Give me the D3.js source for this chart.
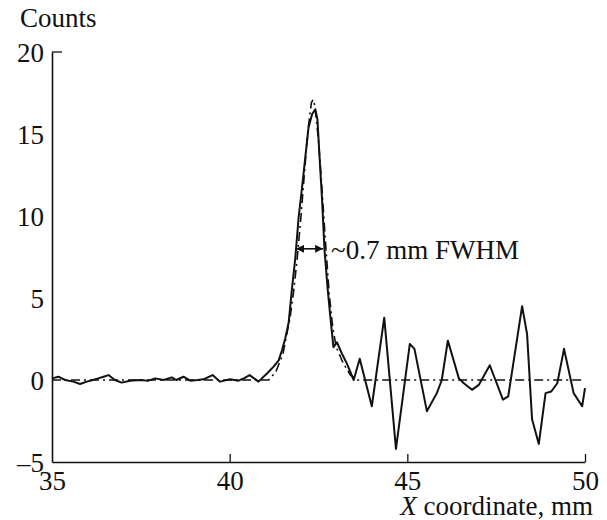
<!DOCTYPE html>
<html>
<head>
<meta charset="utf-8">
<script src="https://cdn.jsdelivr.net/npm/d3@7"></script>
</head>
<body style="margin:0">
<script>
// chart data
var xTicks = [35, 40, 45, 50];
var yTicks = [-5, 0, 5, 10, 15, 20];

// measured profile (solid line)
var profX = [35.0, 35.18, 35.37, 35.6, 35.79, 35.98, 36.15, 36.3, 36.45, 36.59, 36.77, 36.96, 37.2, 37.48, 37.7, 37.9,
  38.14, 38.37, 38.5, 38.7, 38.89, 39.1, 39.26, 39.52, 39.73, 40.01, 40.25, 40.4, 40.56, 40.81, 41.05, 41.23,
  41.38, 41.47, 41.56, 41.66, 41.75, 41.85, 41.94, 42.03, 42.13, 42.22, 42.32, 42.41, 42.47, 42.53, 42.6,
  42.67, 42.76, 42.85, 42.92, 43.02, 43.16, 43.3, 43.49, 43.66, 44.0, 44.35, 44.68, 45.07, 45.2, 45.55,
  45.83, 45.97, 46.14, 46.29, 46.45, 46.59, 46.82, 47.01, 47.32, 47.48, 47.69, 47.84, 48.23, 48.37, 48.51,
  48.7, 48.89, 49.05, 49.22, 49.41, 49.68, 49.92, 50.0];
var profY = [0.1, 0.2, 0.0, -0.1, -0.24, -0.1, 0.0, 0.1, 0.2, 0.3, 0.0, -0.16, -0.04, 0.0, -0.05, 0.1,
  0.0, 0.16, 0.0, 0.2, -0.04, 0.0, 0.04, 0.3, -0.1, 0.04, -0.04, 0.1, 0.3, -0.1, 0.4, 0.8,
  1.2, 1.8, 2.5, 3.5, 5.5, 7.5, 9.9, 11.6, 13.6, 15.4, 16.2, 16.5, 15.9, 13.6, 11.0,
  7.9, 5.5, 3.5, 2.0, 2.3, 1.6, 1.0, 0.0, 1.3, -1.6, 3.8, -4.2, 2.2, 1.9, -1.9,
  -0.8, 0.0, 2.4, 1.3, 0.1, -0.2, -0.6, -0.3, 0.9, 0.0, -1.2, -1.0, 4.5, 2.8, -2.4,
  -3.9, -0.8, -0.7, -0.2, 1.9, -0.8, -1.6, -0.5];

// fitted peak (dash-dot line)
var fitX = [35.0, 41.1, 41.3, 41.5, 41.7, 41.8, 41.9, 42.0, 42.1, 42.2, 42.3, 42.35, 42.4, 42.5, 42.6, 42.7, 42.8, 42.9, 43.0, 43.2, 43.4, 43.6, 50.0];
var fitY = [0.0, 0.0, 0.5, 1.6, 3.8, 5.4, 7.4, 9.8, 12.5, 15.2, 16.9, 17.1, 16.7, 14.6, 11.6, 8.3, 5.3, 3.2, 2.0, 1.0, 0.3, 0.0, 0.0];

// FWHM marker
var fwhmX = [41.87, 42.63];
var fwhmY = 8;
var fwhmLabel = "~0.7 mm FWHM";

var margin = {top: 52, right: 22, bottom: 58, left: 52},
    width = 607 - margin.left - margin.right,
    height = 520 - margin.top - margin.bottom;

var fontFam = "Liberation Serif",
    fontSize = 27;

// serif text helper
function serif(sel) {
  sel.attr("font-family", fontFam)
     .attr("font-size", fontSize)
     .attr("fill", "#111");
}

var svg = d3.select("body").append("svg")
    .attr("width", 607)
    .attr("height", 520)
    .attr("font-family", fontFam);

var defs = svg.append("defs");
["start", "end"].forEach(function(k) {
  defs.append("marker")
      .attr("id", "arr-" + k)
      .attr("viewBox", "0 0 10 10")
      .attr("refX", k == "end" ? 10 : 0)
      .attr("refY", 5)
      .attr("markerWidth", 5)
      .attr("markerHeight", 5)
      .attr("orient", "auto")
    .append("path")
      .attr("d", k == "end" ? "M0,0L10,5L0,10z" : "M10,0L0,5L10,10z")
      .attr("fill", "#111");
});

var g = svg.append("g")
    .attr("transform", "translate(" + margin.left + "," + margin.top + ")");

var x = d3.scaleLinear().domain([35, 50]).range([0, width]);
var y = d3.scaleLinear().domain([-5, 20]).range([height, 0]);

// axes, ticks pointing inward
var xAxis = g.append("g")
    .attr("transform", "translate(0," + height + ")")
    .call(d3.axisBottom(x).tickValues(xTicks).tickSizeInner(-8).tickSizeOuter(0).tickPadding(9));
xAxis.attr("font-family", fontFam);
xAxis.select(".domain").attr("stroke", "#111").attr("stroke-width", 1.6);
xAxis.selectAll(".tick line").attr("stroke", "#111").attr("stroke-width", 1.3)
    .attr("display", function(d) { return d == 35 ? "none" : null; });
xAxis.selectAll("text").call(serif).attr("dy", "0.72em");

var yAxis = g.append("g")
    .call(d3.axisLeft(y).tickValues(yTicks).tickSizeInner(0).tickSizeOuter(0).tickPadding(8)
      .tickFormat(function(d) { return d < 0 ? "\u2013" + Math.abs(d) : d; }));
yAxis.attr("font-family", fontFam);
yAxis.select(".domain").attr("stroke", "#111").attr("stroke-width", 1.6);
yAxis.selectAll("text").call(serif).attr("dy", "0.34em");

// top tick at 20
g.append("line")
    .attr("x1", x(35)).attr("x2", x(35) + 10)
    .attr("y1", y(20)).attr("y2", y(20))
    .attr("stroke", "#111").attr("stroke-width", 1.3);

// axis titles
svg.append("text")
    .attr("x", 20).attr("y", 27)
    .call(serif)
    .text("Counts");

var xt = svg.append("text")
    .attr("x", margin.left + width + 8).attr("y", 515)
    .attr("text-anchor", "end")
    .call(serif);
xt.append("tspan").attr("font-style", "italic").text("X");
xt.append("tspan").text(" coordinate, mm");

var line = d3.line()
    .x(function(d) { return x(d[0]); })
    .y(function(d) { return y(d[1]); });

// fit
g.append("path")
    .datum(d3.zip(fitX, fitY))
    .attr("fill", "none")
    .attr("stroke", "#111")
    .attr("stroke-width", 1.6)
    .attr("stroke-dasharray", "9,4,2,4")
    .attr("d", line);

// measured profile
g.append("path")
    .datum(d3.zip(profX, profY))
    .attr("fill", "none")
    .attr("stroke", "#111")
    .attr("stroke-width", 2)
    .attr("stroke-linejoin", "round")
    .attr("d", line);

// FWHM arrow
g.append("line")
    .attr("x1", x(fwhmX[0])).attr("x2", x(fwhmX[1]))
    .attr("y1", y(fwhmY)).attr("y2", y(fwhmY))
    .attr("stroke", "#111").attr("stroke-width", 1.6)
    .attr("marker-start", "url(#arr-start)")
    .attr("marker-end", "url(#arr-end)");

g.append("text")
    .attr("x", x(fwhmX[1]) + 8)
    .attr("y", y(fwhmY) + 10)
    .call(serif)
    .text(fwhmLabel);
</script>
</body>
</html>
